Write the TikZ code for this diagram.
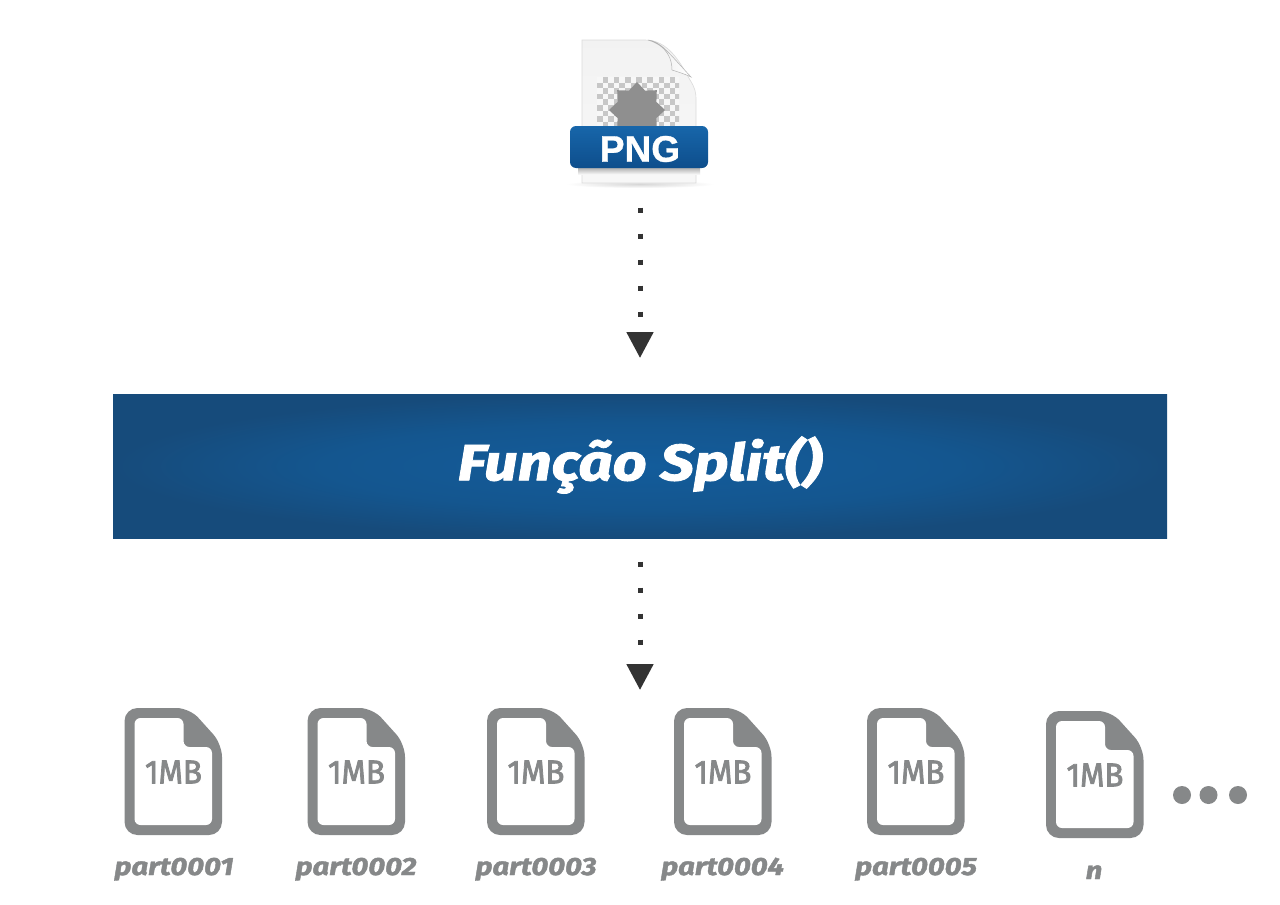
\documentclass[tikz,border=0pt]{standalone}
\usepackage{fontspec}
\setmainfont{Fira Sans}
\newfontfamily\pngfont{Liberation Sans}
\usetikzlibrary{arrows.meta}
\definecolor{iconGray}{HTML}{868889}
\definecolor{arrowDark}{HTML}{333333}
\definecolor{bandIn}{HTML}{135C9B}
\definecolor{bandMid}{HTML}{14568F}
\definecolor{bandOut}{HTML}{164B7B}
\definecolor{pngTop}{HTML}{1766AA}
\definecolor{pngBot}{HTML}{0E4E8C}
\pgfdeclareradialshading{bandglow}{\pgfpoint{0bp}{0bp}}{color(0bp)=(bandIn); color(15bp)=(bandMid); color(25bp)=(bandOut); color(50bp)=(bandOut)}
\tikzset{
  flow/.style={line width=5pt,arrowDark,dash pattern=on 5pt off 21pt,
    -{Triangle[length=26pt,width=26pt,sep=0pt]}},
  mbtext/.style={text=iconGray,inner sep=0pt,xscale=.95,
    font=\fontsize{33}{33}\selectfont\addfontfeature{FakeBold=2.4}},
  partlabel/.style={text=iconGray,inner sep=0pt,anchor=base,xscale=1.17,
    font=\fontsize{25}{25}\selectfont\bfseries\itshape\addfontfeature{FakeBold=1.5}},
  dotmark/.style={circle,fill=iconGray,inner sep=0pt,minimum size=18pt},
}
\newcommand{\partfile}[6]{%
  \begin{scope}[shift={(#1,#2)}]
    \fill[iconGray,rounded corners=13pt]
      (0,0) -- (65,0) -- (97.5,36) -- (97.5,127) -- (0,127) -- cycle;
    \fill[white,rounded corners=6pt]
      (10,10) -- (59,10) -- (59,39) -- (87.5,39) -- (87.5,117) -- (10,117) -- cycle;
    \node[mbtext] (#3) at (49,64) {1MB};
  \end{scope}
  \node[partlabel] (#4) at (#5,#6) {#4};
}
\begin{document}
\begin{tikzpicture}[x=1pt,y=-1pt]
\useasboundingbox (0,0) rectangle (1280,905);
\fill[white] (0,0) rectangle (1280,905);
% PNG document icon
\shade[inner color=black!16,outer color=white] (640,184) ellipse (74 and 4);
\shade[top color=black!5,bottom color=black!3,draw=black!14,line width=.6pt]
  (582,40) -- (645,40) .. controls (668,40) and (680,62) .. (690,80)
  .. controls (695,88) and (696,92) .. (696,100) -- (696,183) -- (582,183) -- cycle;
\begin{scope}
  \clip (597,77) rectangle (679,128);
  \foreach \i in {0,...,14}{\foreach \j in {0,...,9}{
    \pgfmathtruncatemacro{\odd}{mod(\i+\j,2)}
    \ifnum\odd=1 \fill[black!22] (597+5.6*\i,77+5.6*\j) rectangle ++(5.6,5.6);
    \else \fill[black!3] (597+5.6*\i,77+5.6*\j) rectangle ++(5.6,5.6);\fi
  }}
\end{scope}
\fill[black!44] plot[samples at={0,...,16},variable=\t]
  ({637+(mod(\t,2)==0?28:21)*cos(\t*22.5-90)},{110+(mod(\t,2)==0?28:21)*sin(\t*22.5-90)}) -- cycle;
\shade[left color=black!8,right color=white,draw=black!30,line width=.5pt]
  (648,40) .. controls (660,41) and (668,52) .. (691,77)
  .. controls (685,74) and (678,72) .. (672,70)
  .. controls (672,60) and (668,46) .. (648,40) -- cycle;
\shade[top color=black!30,bottom color=black!4] (578,168) rectangle (700,174);
\node[rounded corners=6pt,minimum width=138pt,minimum height=42pt,inner sep=0pt,
  top color=pngTop,bottom color=pngBot] (pngfile) at (639,147) {};
\node[text=white,inner sep=0pt,font=\fontsize{37}{37}\selectfont\pngfont\bfseries\addfontfeature{FakeBold=.8}] (pngtext) at (640,149) {PNG};
% Band
\node[minimum width=1054pt,minimum height=144pt,inner sep=0pt,shading=bandglow] (band) at (640,466) {};
\node[text=white,inner sep=0pt,xscale=1.17,font=\fontsize{51}{51}\selectfont\bfseries\itshape\addfontfeature{FakeBold=1.6}] (title) at (640,465) {Função Split()};
% connectors
\coordinate (a1) at (640,207.5);
\coordinate (a2) at (640,358);
\coordinate (b1) at (640,561.5);
\coordinate (b2) at (640,690);
\draw[flow] (a1) -- (a2);
\draw[flow] (b1) -- (b2);
% parts
\partfile{124.5}{708}{mba}{part0001}{174}{875}
\partfile{307.5}{708}{mbb}{part0002}{356}{875}
\partfile{487}{708}{mbc}{part0003}{536}{875}
\partfile{674}{708}{mbd}{part0004}{722.5}{875}
\partfile{867}{708}{mbe}{part0005}{916}{875}
\partfile{1046}{711}{mbf}{n}{1094}{879}
\node[dotmark] (d1) at (1182,795) {};
\node[dotmark] (d2) at (1208.5,795) {};
\node[dotmark] (d3) at (1238,795) {};
\end{tikzpicture}
\end{document}
